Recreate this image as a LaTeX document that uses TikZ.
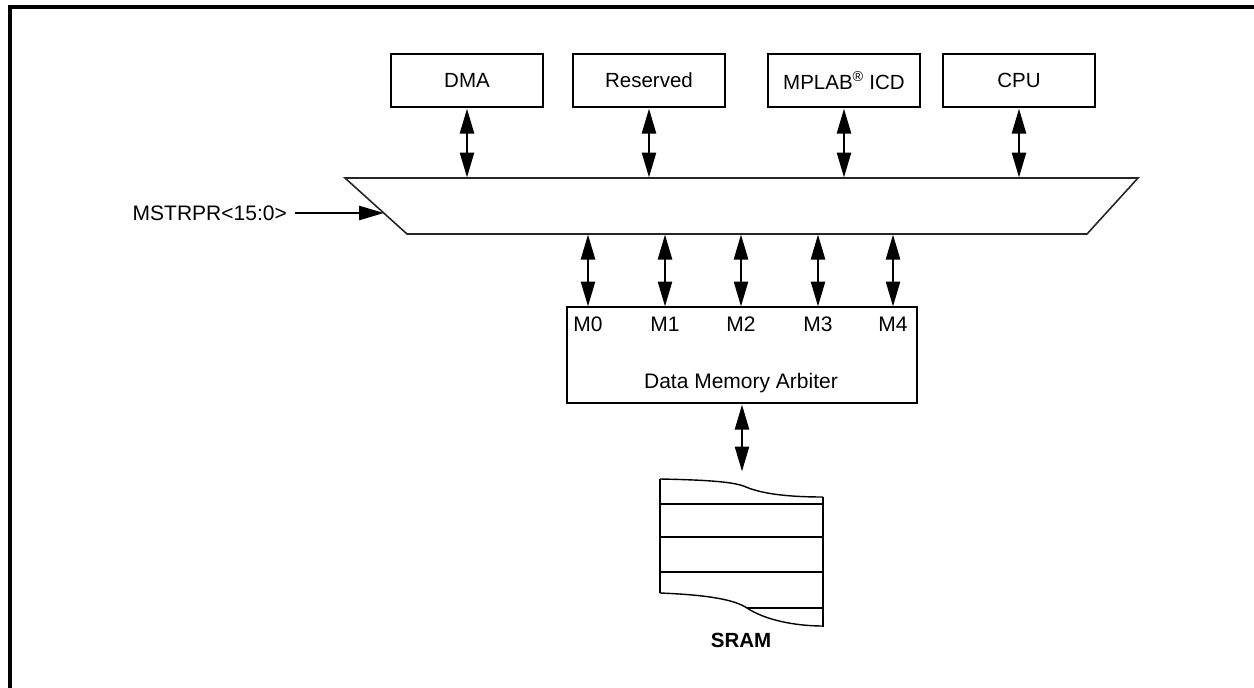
\documentclass[tikz,border=0pt]{standalone}
\usepackage{fontspec}
\setmainfont{Liberation Sans}
\usetikzlibrary{arrows.meta}
\begin{document}
\begin{tikzpicture}[x=1pt,y=-1pt,
  box/.style={draw, line width=2.2pt, minimum width=152pt, minimum height=53pt, inner sep=0pt,
    font=\fontsize{20.5}{24}\selectfont},
  lbl/.style={inner sep=0pt, font=\fontsize{21}{25}\selectfont},
  biarrow/.style={line width=2.5pt, {Triangle[length=25pt,width=14pt]}-{Triangle[length=25pt,width=14pt]}, shorten <=0.5pt, shorten >=0.5pt},
  onearrow/.style={line width=2.5pt, -{Triangle[length=25pt,width=14pt]}},
  trap/.style={line width=1.6pt, draw=black!85}]
\useasboundingbox (0,0) rectangle (1254,688);
% frame (top and left only)
\draw[line width=3.5pt] (10,688) -- (10,7) -- (1254,7);

% top boxes
\node[box] (dma) at (467,80.5) {DMA};
\node[box] (res) at (649,80.5) {Reserved};
\node[box] (icd) at (844,80.5) {MPLAB\textsuperscript{®} ICD};
\node[box] (cpu) at (1019,80.5) {CPU};

% trapezoid (bus switch)
\coordinate (tl) at (345,178);
\coordinate (tr) at (1138,178);
\coordinate (br) at (1087,234);
\coordinate (bl) at (407,234);
\draw[trap] (tl) -- (tr) -- (br) -- (bl) -- cycle;

% arrows from top boxes to bus
\draw[biarrow] (dma.south) -- (dma.south |- tl);
\draw[biarrow] (res.south) -- (res.south |- tl);
\draw[biarrow] (icd.south) -- (icd.south |- tl);
\draw[biarrow] (cpu.south) -- (cpu.south |- tl);

% MSTRPR input
\node[lbl, anchor=east] (mst) at (287,213) {MSTRPR<15:0>};
\coordinate (mstend) at (384,213);
\draw[onearrow] ([xshift=8pt]mst.east) -- (mstend);

% arbiter
\node[draw, line width=2.2pt, minimum width=350pt, minimum height=96pt, inner sep=0pt] (arb) at (742,355) {};
\node[lbl] (arbt) at (741,383) {Data Memory Arbiter};
\foreach \i/\x in {0/588,1/665,2/741,3/818,4/893}{
  \node[lbl] (m\i) at (\x,324) {M\i};
  \coordinate (mt\i) at (\x,307);
  \draw[biarrow] (mt\i) -- (mt\i |- bl);
}

% SRAM
\coordinate (sramtop) at (742,472);
\draw[biarrow] (arb.south) -- (sramtop);
\draw[line width=2.2pt] (823,497) -- (823,627);
\draw[line width=2.2pt] (660,479) -- (660,593);
\draw[line width=1.4pt] (660,479) .. controls (710,480) and (735,482) .. (746,487)
   .. controls (765,495) and (795,497) .. (823,497);
\draw[line width=1.4pt] (660,593) .. controls (710,595) and (735,600) .. (747,608)
   .. controls (765,620) and (795,626) .. (823,626);
\draw[line width=2.2pt] (660,504) -- (823,504);
\draw[line width=2.2pt] (660,537) -- (823,537);
\draw[line width=2.2pt] (660,572) -- (823,572);
\draw[line width=2.2pt] (747,608) -- (823,608);
\node[lbl, font=\fontsize{20.5}{24}\bfseries\selectfont] (sram) at (741,640) {SRAM};
\end{tikzpicture}
\end{document}
